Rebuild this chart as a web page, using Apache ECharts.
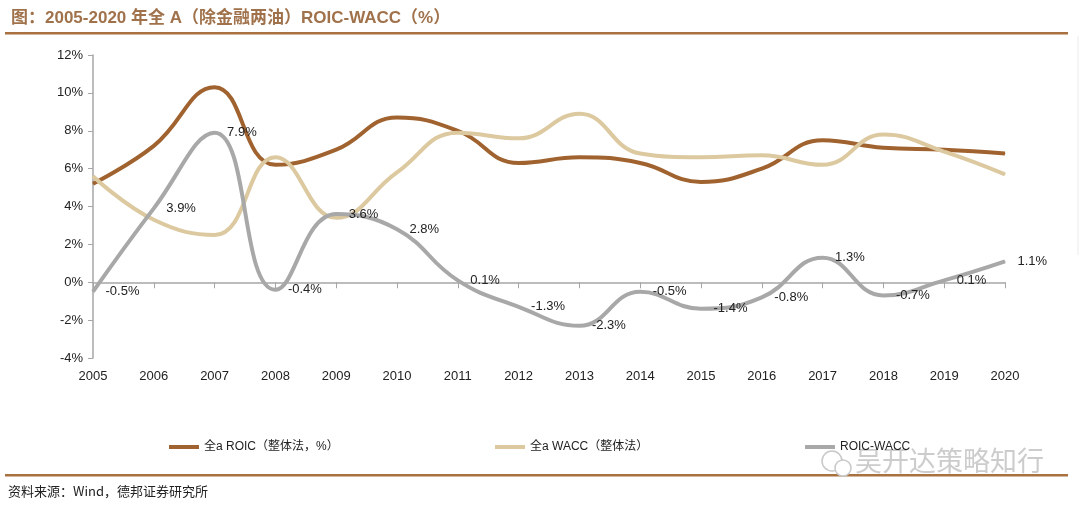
<!DOCTYPE html>
<html><head><meta charset="utf-8">
<script src="https://cdn.jsdelivr.net/npm/echarts@6/dist/echarts.min.js"></script>
<style>html,body{margin:0;padding:0;background:#fff}#c{width:1080px;height:511px}</style>
</head><body><div id="c"></div>
<script>
const years = ['2005','2006','2007','2008','2009','2010','2011','2012','2013','2014','2015','2016','2017','2018','2019','2020'];
const roic = [5.2, 7.2, 10.3, 6.2, 7.0, 8.7, 8.0, 6.3, 6.6, 6.3, 5.3, 6.0, 7.5, 7.1, 7.0, 6.8];
const wacc = [5.6, 3.3, 2.5, 6.6, 3.4, 5.8, 7.9, 7.6, 8.9, 6.8, 6.6, 6.7, 6.2, 7.8, 6.9, 5.7];
const spread = [-0.5, 3.9, 7.9, -0.4, 3.6, 2.8, 0.1, -1.3, -2.3, -0.5, -1.4, -0.8, 1.3, -0.7, 0.1, 1.1];
const seriesNames = ['全a ROIC（整体法，%）', '全a WACC（整体法）', 'ROIC-WACC'];
const yTicks = {min: -4, max: 12, interval: 2};

const FONT = "'Liberation Sans Narrow','Liberation Sans','Noto Sans CJK SC',sans-serif";
const chart = echarts.init(document.getElementById('c'));
const lineSeries = (name, data, color, withLabel, z) => ({
  name, type: 'line', data, smooth: 0.45, symbol: 'circle', symbolSize: 1,
  xAxisIndex: 0, z,
  lineStyle: {width: 4, color}, itemStyle: {color},
  label: withLabel ? {show: true, position: 'right', distance: 12, color: '#222', fontSize: 13, fontFamily: FONT,
    formatter: p => p.value.toFixed(1) + '%'} : {show: false},
  emphasis: {disabled: true}
});
const legendBase = {top: 436, icon: 'rect', itemWidth: 30, itemHeight: 4, itemGap: 8,
  textStyle: {fontSize: 12, color: '#222', fontFamily: FONT}, selectedMode: false};
chart.setOption({
  animation: false,
  backgroundColor: '#fff',
  title: {text: '图：2005-2020 年全 A（除金融两油）ROIC-WACC（%）', left: 6, top: 5,
    textStyle: {fontSize: 17, fontWeight: 'bold', color: '#A0724B', fontFamily: "'Liberation Sans','Noto Sans CJK SC',sans-serif"}},
  grid: {left: 93, right: 75, top: 55, bottom: 153},
  legend: [
    Object.assign({}, legendBase, {left: 164, data: [seriesNames[0]]}),
    Object.assign({}, legendBase, {left: 490, data: [seriesNames[1]]}),
    Object.assign({}, legendBase, {left: 800, data: [seriesNames[2]]})
  ],
  xAxis: [
    {type: 'category', data: years, boundaryGap: false, position: 'bottom',
      axisLine: {show: false, onZero: false}, axisTick: {show: false},
      axisLabel: {margin: 12, fontSize: 13, color: '#222', fontFamily: FONT}},
    {type: 'category', data: years, boundaryGap: false, position: 'top',
      axisLine: {show: true, onZero: true, lineStyle: {color: '#A6A6A6', width: 1.5}},
      axisTick: {show: true, inside: true, length: 6, lineStyle: {color: '#A6A6A6'}},
      axisLabel: {show: false}}
  ],
  yAxis: {type: 'value', min: yTicks.min, max: yTicks.max, interval: yTicks.interval,
    axisLine: {show: true, lineStyle: {color: '#A6A6A6', width: 1.5}},
    axisTick: {show: true, length: 5, lineStyle: {color: '#A6A6A6'}},
    splitLine: {show: false},
    axisLabel: {formatter: '{value}%', fontSize: 13, color: '#222', margin: 10, fontFamily: FONT}},
  series: [
    lineSeries(seriesNames[0], roic, '#A0632F', false, 2),
    lineSeries(seriesNames[1], wacc, '#DCC9A0', false, 2),
    lineSeries(seriesNames[2], spread, '#A8A8A8', true, 3)
  ],
  graphic: [
    {type: 'rect', shape: {x: 5, y: 32, width: 1063, height: 2.5}, style: {fill: '#A8713F'}},
    {type: 'rect', shape: {x: 5, y: 474, width: 1063, height: 2.5}, style: {fill: '#A8713F'}},
    {type: 'line', shape: {x1: 1078, y1: 36, x2: 1078, y2: 255}, style: {stroke: '#EBEBEB', lineWidth: 1}},
    {type: 'text', left: 8, top: 485, style: {text: '资料来源：Wind，德邦证券研究所', fontSize: 13, fill: '#222', fontFamily: "'Noto Sans CJK SC',sans-serif"}},
    {type: 'circle', shape: {cx: 832, cy: 461, r: 10}, style: {fill: 'none', stroke: '#C8C8C8', lineWidth: 1.5}},
    {type: 'circle', shape: {cx: 843, cy: 468, r: 8}, style: {fill: '#fff', stroke: '#C8C8C8', lineWidth: 1.5}},
    {type: 'text', left: 855, top: 447, style: {text: '吴开达策略知行', fontSize: 27, fill: 'rgba(195,195,195,0.85)', fontFamily: "'Noto Sans CJK SC',sans-serif"}}
  ]
});
</script></body></html>
